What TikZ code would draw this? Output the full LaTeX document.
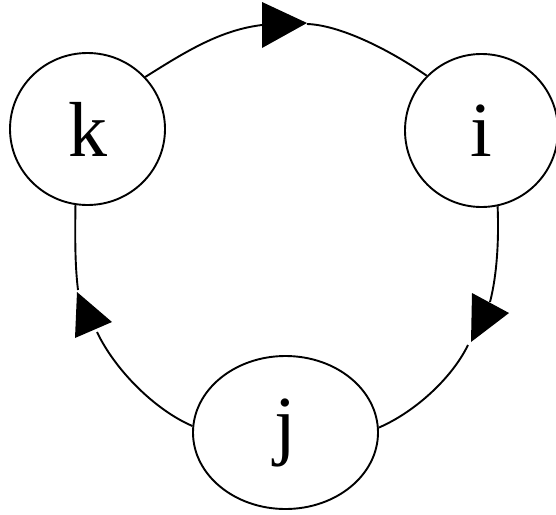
\documentclass[tikz,border=0pt]{standalone}
\usepackage{fontspec}
\setmainfont{Liberation Serif}
\usetikzlibrary{shapes.geometric}
\begin{document}
\begin{tikzpicture}[x=1pt,y=-1pt,
  state/.style={draw=black, ellipse, line width=1.9pt, inner sep=0pt,
    font=\fontsize{78}{78}\selectfont},
  conn/.style={draw=black, line width=1.9pt},
  arrowhead/.style={fill=black}]
\useasboundingbox (0,0) rectangle (556,514);
\node[state, minimum width=155pt, minimum height=152pt] (k) at (87.5,129) {k};
\node[state, minimum width=153pt, minimum height=153pt] (i) at (481.5,130.5) {i};
\node[state, minimum width=185pt, minimum height=153pt] (j) at (285.5,432.5) {j};
% connector end points at the arrowheads
\coordinate (t1) at (262,25);
\coordinate (t2) at (307,24);
\coordinate (r1) at (490,302);
\coordinate (r2) at (468,345);
\coordinate (l1) at (97,332);
\coordinate (l2) at (78,290);
% connectors
\draw[conn] (k.42) .. controls (185,52) and (220,30) .. (t1);
\draw[conn] (t2) .. controls (340,25) and (390,50) .. (i.135.5);
\draw[conn] (i.282) .. controls (499,240) and (497,275) .. (r1);
\draw[conn] (r2) .. controls (452,378) and (415,412) .. (j.3.5);
\draw[conn] (j.176.5) .. controls (155,410) and (115,370) .. (l1);
\draw[conn] (l2) .. controls (75,265) and (75,240) .. (k.261);
% arrowheads
\fill[arrowhead] (262,2) -- (262,48) -- (307,23) -- cycle;
\fill[arrowhead] (472,293) -- (509,313) -- (471,342) -- cycle;
\fill[arrowhead] (77,292) -- (112,322) -- (75,338) -- cycle;
\end{tikzpicture}
\end{document}
